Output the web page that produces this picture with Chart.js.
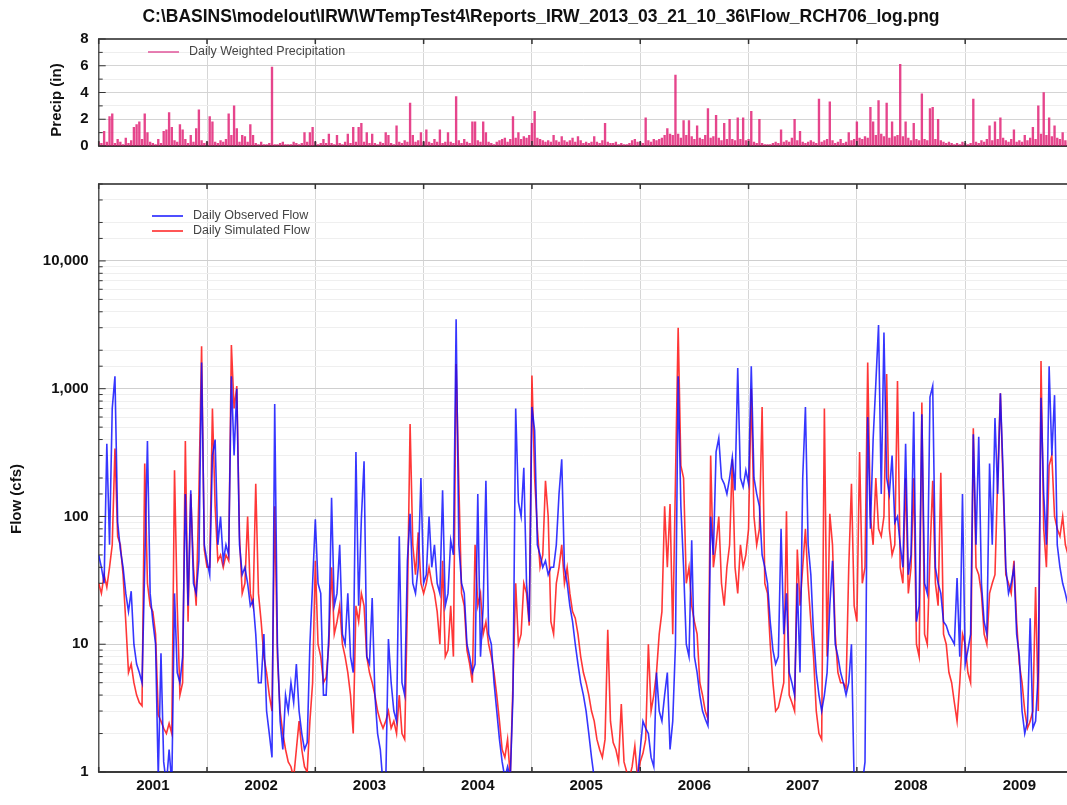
<!DOCTYPE html>
<html>
<head>
<meta charset="utf-8">
<title>Flow RCH706</title>
<script src="https://cdn.jsdelivr.net/npm/chart.js@4.4.1/dist/chart.umd.min.js"></script>
<style>
  html, body { margin: 0; padding: 0; background: #fff; }
  #wrap { position: relative; width: 1067px; height: 805px; overflow: hidden; }
  #precip-wrap { position: absolute; left: 0; top: 0; width: 1067px; height: 165px; }
  #flow-wrap { position: absolute; left: 0; top: 165px; width: 1067px; height: 640px; }
</style>
</head>
<body>
<div id="wrap">
  <div id="precip-wrap"><canvas id="precip-chart"></canvas></div>
  <div id="flow-wrap"><canvas id="flow-chart"></canvas></div>
</div>
<script>
const titleText = 'C:\\BASINS\\modelout\\IRW\\WTempTest4\\Reports_IRW_2013_03_21_10_36\\Flow_RCH706_log.png'

// record starts Jan 1 2001, one sample about every 9 days
const firstYear = 2001
const samplesPerYear = 40
const lastX = 2009.94
const yearLabels = ['2001', '2002', '2003', '2004', '2005', '2006', '2007', '2008', '2009']

const precipTicks = [0, 2, 4, 6, 8]
const flowTicks = [1, 10, 100, 1000, 10000]
const flowTickLabels = ['1', '10', '100', '1,000', '10,000']

// daily weighted precipitation (in)
const precipIn = [
  0.3,0.2,1.1,0.3,2.2,2.4,0.2,0.5,0.3,0.1, 0.6,0.2,0.4,1.4,1.6,1.8,0.5,2.4,1.0,0.3, 0.2,0.1,0.5,0.2,1.1,1.2,2.5,1.4,0.4,0.3, 1.6,1.2,0.5,0.2,0.8,0.3,1.3,2.7,0.4,0.2,
  0.3,2.2,1.8,0.3,0.2,0.4,0.3,0.5,2.4,0.8, 3.0,1.3,0.3,0.8,0.7,0.3,1.6,0.8,0.2,0.1, 0.3,0.1,0.1,0.2,5.9,0.1,0.1,0.2,0.3,0.1, 0.1,0.1,0.3,0.2,0.1,0.2,1.0,0.3,1.0,1.4,
  0.3,0.1,0.2,0.5,0.2,0.9,0.2,0.1,0.8,0.2, 0.1,0.3,0.9,0.2,1.4,0.3,1.4,1.7,0.3,1.0, 0.2,0.9,0.2,0.1,0.3,0.2,1.0,0.8,0.2,0.1, 1.5,0.3,0.2,0.4,0.3,3.2,0.8,0.3,0.4,1.0,
  0.3,1.2,0.3,0.2,0.5,0.3,1.2,0.2,0.3,1.0, 0.3,0.2,3.7,0.4,0.2,0.5,0.3,0.2,1.8,1.8, 0.4,0.3,1.8,1.0,0.3,0.2,0.1,0.3,0.4,0.5, 0.6,0.3,0.5,2.2,0.6,1.0,0.5,0.7,0.6,0.8,
  1.7,2.6,0.6,0.5,0.4,0.3,0.4,0.3,0.8,0.4, 0.3,0.7,0.4,0.3,0.4,0.6,0.3,0.7,0.4,0.2, 0.3,0.2,0.3,0.7,0.3,0.2,0.4,1.7,0.3,0.2, 0.2,0.3,0.1,0.2,0.1,0.1,0.2,0.4,0.5,0.3,
  0.3,0.2,2.1,0.4,0.3,0.5,0.4,0.5,0.6,0.8, 1.3,0.9,0.8,5.3,0.9,0.6,1.9,0.8,1.9,0.7, 0.5,1.5,0.6,0.5,0.8,2.8,0.6,0.7,2.3,0.6, 0.4,1.7,0.5,2.0,0.5,0.4,2.1,0.5,2.1,0.4,
  0.5,2.6,0.3,0.2,2.0,0.2,0.1,0.1,0.1,0.2, 0.3,0.2,1.2,0.3,0.4,0.3,0.6,2.0,0.4,1.1, 0.3,0.2,0.3,0.4,0.3,0.2,3.5,0.3,0.4,0.5, 3.3,0.4,0.2,0.3,0.5,0.2,0.3,1.0,0.4,0.5,
  1.8,0.6,0.5,0.7,0.6,2.9,1.8,0.8,3.4,0.9, 0.7,3.2,0.6,1.8,0.7,0.8,6.1,0.7,1.8,0.6, 0.4,1.7,0.5,0.4,3.9,0.5,0.4,2.8,2.9,0.5, 2.0,0.4,0.3,0.2,0.3,0.2,0.1,0.2,0.1,0.3,
  0.2,0.1,0.2,3.5,0.3,0.2,0.4,0.3,0.5,1.5, 0.4,1.8,0.5,2.1,0.6,0.4,0.3,0.5,1.2,0.3, 0.4,0.3,0.8,0.4,0.6,1.4,0.5,3.0,0.9,4.0, 0.8,2.1,0.7,1.5,0.6,0.5,1.0,0.4,0.3
]

// daily observed flow (cfs)
const observedFlow = [
  50,40,30,370,60,700,1250,90,55,40, 25,18,26,10,7,6,5,40,390,25, 15,10,0.9,8.5,1.2,0.8,1.5,0.8,25,6, 5,8,150,20,160,30,25,45,1600,60,
  45,35,300,400,60,100,45,60,50,1250, 300,1000,60,35,40,30,20,22,12,5, 5,12,3,2,1.3,760,10,2.5,1.5,4, 3,5,3.5,7,3,2,1.5,1.7,10,30,
  95,30,25,4,4,12,140,20,25,60, 12,10,25,8,6,320,20,95,270,8, 7,23,4,2,1.5,0.8,0.8,11,5,3, 2.5,70,5,4,45,105,30,25,40,200,
  30,35,100,40,60,30,25,160,20,25, 65,50,3500,60,30,25,10,8,6,7, 150,8,20,190,12,10,5,3,1.8,1.2, 0.9,1.1,0.9,4,700,130,100,240,30,15,
  720,470,60,50,40,45,35,40,40,60, 150,280,40,30,20,15,10,7,5,4, 3,2,1.3,0.9,0.8,0.8,0.7,0.8,0.7,0.8, 0.7,0.8,0.7,0.8,0.7,0.8,0.7,0.8,0.8,0.9,
  1.5,2.5,2.2,2,1.3,1.1,6,3,2.5,4, 6,1.5,2.5,10,1250,120,40,10,8,65, 8,6,4,3,2.6,2.3,100,50,320,410, 200,180,150,200,290,160,1450,200,170,230,
  180,1500,200,150,120,50,40,30,15,9, 7,8,80,12,25,6,5,4,30,6, 200,720,60,35,12,6,4,3,4,6, 20,45,10,8,6,5,4,5,10,0.8,
  0.7,0.7,0.8,1.2,600,80,400,1100,3150,150, 2750,200,150,300,90,100,60,40,370,35, 50,660,15,20,630,30,25,860,1050,40, 30,25,15,14,12,11,10,33,8,150,
  7,9,12,440,60,420,30,15,12,260, 60,590,150,920,220,40,25,30,40,12, 8,3,2,2.5,16,2.2,2.5,6,850,150, 60,1500,300,890,60,40,30,25,20
]

// daily simulated flow (cfs)
const simulatedFlow = [
  30,25,35,28,40,60,340,70,60,35, 15,6,7,5,4,3.5,3.3,260,30,20, 18,12,2.8,2.5,2.2,2.0,2.4,2.0,230,20, 4,5,390,15,150,40,20,150,2150,55,
  40,40,700,120,45,50,40,50,45,2200, 700,1050,70,25,30,100,25,20,180,25, 15,8,6,4,3,120,8,3,2,1.5, 1.2,1.1,0.9,1.5,2.5,1.5,1.1,1.0,2.5,5,
  45,10,8,5,5.5,10,40,12,15,20, 10,8,6,4,2,20,15,25,20,8, 6,5,4,3,2.5,2.2,2.5,3,2.2,2.5, 2,4,2,1.8,20,530,60,35,75,30,
  25,30,40,30,25,18,10,45,8,9, 20,8,1560,180,25,20,9,7,5,60, 20,25,12,15,10,8,6,4,2.5,1.5, 1.3,1.8,0.9,5,30,10,12,30,25,14,
  1270,200,80,40,50,190,100,15,12,30, 40,60,30,40,25,18,16,12,8,6, 5,4,3,2.5,1.8,1.5,1.3,1.8,13,2.5, 1.7,1.5,1.2,3.4,1.2,1.0,0.9,1.1,1.6,0.9,
  1.2,1.4,1.8,10,3,4,6,12,18,120, 40,125,12,190,3000,250,200,30,40,20, 15,12,5,4,3,2.6,300,40,60,100, 30,20,40,60,280,40,25,60,40,50,
  80,1000,100,60,80,720,30,25,10,5, 3,3.2,4,5,110,4,3.5,3,55,20, 40,80,30,15,8,3,2,1.8,700,8, 105,60,12,6,5,5,4.5,40,180,20,
  15,320,30,40,1600,100,60,200,80,70, 100,1300,80,50,60,1150,40,30,200,25, 40,200,10,8,780,12,10,50,190,30, 20,220,12,10,6,5,3.5,2.5,5,12,
  10,6,5,490,40,35,25,12,10,25, 30,35,200,920,180,35,30,25,45,15, 7,5,3,2.2,2.5,3,28,3,1650,80, 40,250,300,100,80,70,100,60,50
]

const fontFamily = '"Liberation Sans", Arial, Helvetica, sans-serif'
Chart.defaults.font.family = fontFamily
Chart.defaults.color = '#111'

const plotLeft = 98.7

function toPoints(arr){
    return arr.map((v, i) => ({x: firstYear + i / samplesPerYear, y: v}))
}

// years get a grid line at Jan 1 and a label in the middle of the year
function yearAxis(showLabels){
    return {
        type: 'linear',
        min: firstYear,
        max: lastX,
        offset: false,
        afterBuildTicks: (scale) => {
            let t = []
            yearLabels.forEach((lab, i) => {
                t.push({value: firstYear + i})
                t.push({value: firstYear + i + 0.5})
            })
            scale.ticks = t
        },
        ticks: {
            display: showLabels,
            autoSkip: false,
            maxRotation: 0,
            padding: 5,
            color: '#111',
            font: {size: 15, weight: 'bold'},
            callback: (v) => Number.isInteger(v) ? '' : yearLabels[Math.floor(v) - firstYear]
        },
        grid: {
            drawTicks: false,
            offset: false,
            color: (ctx) => (ctx.tick && Number.isInteger(ctx.tick.value)) ? '#d6d6d6' : 'rgba(0,0,0,0)'
        },
        border: {display: true, color: '#3a3a3a', width: 2}
    }
}

// frame top line, inward tick marks, in-plot legend, axis caption and the title
const panelFrame = {
    id: 'panelFrame',
    afterDraw(chart, args, opts){
        const ctx = chart.ctx
        const a = chart.chartArea
        const x = chart.scales.x
        const y = chart.scales.y
        ctx.save()
        ctx.strokeStyle = '#5a5a5a'
        ctx.lineWidth = 2
        ctx.beginPath()
        ctx.moveTo(a.left, a.top)
        ctx.lineTo(a.right, a.top)
        ctx.stroke()

        ctx.strokeStyle = '#333'
        ctx.lineWidth = 1.5
        x.ticks.forEach(t => {
            if(!Number.isInteger(t.value)) return
            const px = x.getPixelForValue(t.value)
            ctx.beginPath()
            ctx.moveTo(px, a.top); ctx.lineTo(px, a.top + 5)
            ctx.moveTo(px, a.bottom); ctx.lineTo(px, a.bottom - 5)
            ctx.stroke()
        })
        ctx.lineWidth = 1
        y.ticks.forEach(t => {
            const py = y.getPixelForValue(t.value)
            const len = opts.majors.includes(t.value) ? 7 : 4
            ctx.beginPath()
            ctx.moveTo(a.left, py); ctx.lineTo(a.left + len, py)
            ctx.stroke()
        })

        // legend
        ctx.font = '12.5px ' + fontFamily
        ctx.textBaseline = 'middle'
        ctx.textAlign = 'left'
        opts.legend.items.forEach((it, i) => {
            const ly = opts.legend.y + i * 15
            ctx.strokeStyle = it.color
            ctx.lineWidth = 1.5
            ctx.beginPath()
            ctx.moveTo(opts.legend.x, ly)
            ctx.lineTo(opts.legend.x + 31, ly)
            ctx.stroke()
            ctx.fillStyle = '#444'
            ctx.fillText(it.text, opts.legend.x + 41, ly)
        })

        // file path title over the whole figure
        if(opts.title){
            ctx.font = 'bold 17.5px ' + fontFamily
            ctx.textAlign = 'center'
            ctx.fillStyle = '#111'
            ctx.fillText(opts.title.text, opts.title.x, opts.title.y)
        }

        // y axis caption
        ctx.translate(opts.caption.x, opts.caption.y)
        ctx.rotate(-Math.PI / 2)
        ctx.font = 'bold 15px ' + fontFamily
        ctx.textAlign = 'center'
        ctx.fillStyle = '#111'
        ctx.fillText(opts.caption.text, 0, 0)
        ctx.restore()
    }
}

const precipChart = new Chart(document.getElementById('precip-chart'), {
    type: 'bar',
    data: {
        datasets: [{
            label: 'Daily Weighted Precipitation',
            data: toPoints(precipIn),
            backgroundColor: 'rgba(225,28,115,0.82)',
            barThickness: 1.7,
            grouped: false
        }]
    },
    options: {
        responsive: true,
        maintainAspectRatio: false,
        devicePixelRatio: 1,
        animation: false,
        events: [],
        layout: {padding: {top: 39, bottom: 14, left: 0, right: 0}},
        scales: {
            x: yearAxis(false),
            y: {
                min: 0,
                max: 8,
                afterFit: (s) => { s.width = plotLeft },
                ticks: {
                    stepSize: 1,
                    autoSkip: false,
                    padding: 10,
                    color: '#111',
                    font: {size: 15, weight: 'bold'},
                    callback: (v) => precipTicks.includes(v) ? String(v) : ''
                },
                grid: {
                    drawTicks: false,
                    color: (ctx) => precipTicks.includes(ctx.tick.value) ? '#d4d4d4' : '#eeeeee'
                },
                border: {display: true, color: '#555', width: 1.5}
            }
        },
        plugins: {
            legend: {display: false},
            tooltip: {enabled: false},
            panelFrame: {
                majors: precipTicks,
                legend: {x: 148, y: 52, items: [{text: 'Daily Weighted Precipitation', color: '#e0559a'}]},
                caption: {x: 57, y: 100, text: 'Precip (in)'},
                title: {x: 541, y: 17, text: titleText}
            }
        }
    },
    plugins: [panelFrame]
})

const flowChart = new Chart(document.getElementById('flow-chart'), {
    type: 'line',
    data: {
        datasets: [
            {
                label: 'Daily Observed Flow',
                data: toPoints(observedFlow),
                borderColor: 'rgba(10,10,255,0.82)',
                borderWidth: 1.6,
                pointRadius: 0,
                tension: 0,
                order: 0
            },
            {
                label: 'Daily Simulated Flow',
                data: toPoints(simulatedFlow),
                borderColor: 'rgba(255,20,20,0.85)',
                borderWidth: 1.6,
                pointRadius: 0,
                tension: 0,
                order: 1
            }
        ]
    },
    options: {
        responsive: true,
        maintainAspectRatio: false,
        devicePixelRatio: 1,
        animation: false,
        events: [],
        layout: {padding: {top: 14, bottom: 5, left: 0, right: 0}},
        scales: {
            x: yearAxis(true),
            y: {
                type: 'logarithmic',
                min: 1,
                max: 40000,
                afterFit: (s) => { s.width = plotLeft },
                ticks: {
                    autoSkip: false,
                    padding: 10,
                    color: '#111',
                    font: {size: 15, weight: 'bold'},
                    callback: (v) => {
                        const i = flowTicks.indexOf(v)
                        return i >= 0 ? flowTickLabels[i] : ''
                    }
                },
                grid: {
                    drawTicks: false,
                    color: (ctx) => flowTicks.includes(ctx.tick.value) ? '#cfcfcf' : '#efefef'
                },
                border: {display: true, color: '#555', width: 1.5}
            }
        },
        plugins: {
            legend: {display: false},
            tooltip: {enabled: false},
            panelFrame: {
                majors: flowTicks,
                legend: {x: 152, y: 51, items: [
                    {text: 'Daily Observed Flow', color: 'rgb(20,20,255)'},
                    {text: 'Daily Simulated Flow', color: 'rgb(255,30,30)'}
                ]},
                caption: {x: 17, y: 334, text: 'Flow (cfs)'}
            }
        }
    },
    plugins: [panelFrame]
})
</script>
</body>
</html>
